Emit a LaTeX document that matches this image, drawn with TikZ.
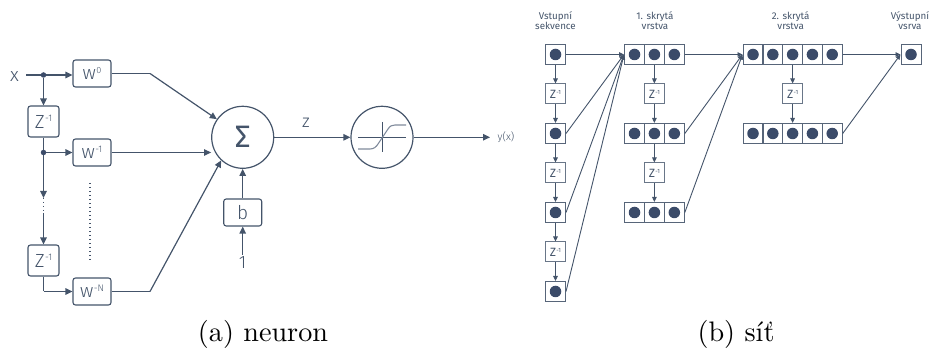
\documentclass[tikz,border=0pt]{standalone}
\usepackage{fontspec}
\setmainfont{Fira Sans}[UprightFont=* Light]
\newfontfamily\firareg{Fira Sans}
\newfontfamily\lmcap{lmroman10-regular.otf}
\usetikzlibrary{arrows.meta}
\definecolor{ink}{HTML}{44546A}
\definecolor{dotc}{HTML}{3B4B69}
\definecolor{sig}{HTML}{7F8A9B}
\newcommand{\fsz}[1]{\fontsize{#1}{#1}\selectfont}
% size of base, base letter, size of exponent, exponent text
\newcommand{\powr}[4]{{\fsz{#1}#2\raisebox{.34em}{\fsz{#3}\kern.05em #4}}}
\begin{document}
\begin{tikzpicture}[x=1pt,y=-1pt,
  line/.style={draw=ink,line width=1.2pt},
  arr/.style={line,-{Triangle[length=7pt,width=6.5pt]}},
  thin arr/.style={draw=ink,line width=.9pt,-{Triangle[length=5pt,width=4.5pt]}},
  rbox/.style={draw=ink,line width=1.1pt,rounded corners=2.5pt,inner sep=0pt,text=ink,align=center},
  wbox/.style={rbox,minimum width=38pt,minimum height=27pt},
  zbox/.style={rbox,minimum width=31pt,minimum height=31pt},
  ring/.style={circle,draw=ink,line width=1.2pt,minimum size=62pt,inner sep=0pt,text=ink},
  junction/.style={circle,fill=dotc,minimum size=5.5pt,inner sep=0pt},
  word/.style={text=ink,inner sep=0pt,align=center},
  head/.style={word,font=\firareg\fsz{9.8},align=center},
  cell/.style={draw=ink!90,line width=1pt,minimum size=20pt,inner sep=0pt},
  celldot/.style={circle,fill=dotc,minimum size=11.5pt,inner sep=0pt},
  zcell/.style={draw=ink!80,line width=1pt,minimum size=20pt,inner sep=0pt,text=ink,font=\firareg},
  caption/.style={inner sep=0pt,font=\lmcap\fsz{28.2},text=black}
]
\useasboundingbox (0,0) rectangle (930,352);

% ---------- (a) neuron ----------
\node[word,font=\fsz{19}] (x) at (14.5,76.5) {x};
\coordinate (xs) at (26,75);
\node[junction] (j0) at (43.5,75) {};
\node[wbox] (w0) at (92,73.5) {\powr{19}{w}{9}{0}};
\node[zbox] (z1) at (43.5,121.5) {\powr{19}{Z}{9.5}{-1}};
\node[junction] (j1) at (43.5,152.5) {};
\node[wbox] (w1) at (92,152.5) {\powr{19}{w}{9.5}{-1}};
\coordinate (dtop) at (43.5,198);
\coordinate (dbot) at (43.5,213);
\node[zbox] (z2) at (43.5,260.5) {\powr{19}{Z}{9.5}{-1}};
\node[wbox] (wn) at (92,291.5) {\powr{19}{w}{9.5}{-N}};
\coordinate (elbow) at (43.5,291.5);
\coordinate (k0) at (150,73.5);
\coordinate (kn) at (150,291.5);
\coordinate (vt) at (90,183);
\coordinate (vb) at (90,262);

\node[ring] (sum) at (242.7,137.3) {\firareg\fsz{31}Σ};
\node[ring] (act) at (382,137.3) {};
\node[wbox] (b) at (242.7,212.5) {\fsz{19}b};
\node[word,font=\fsz{18}] (one) at (242.7,263) {1};
\node[word,font=\fsz{18}] (zl) at (306,123) {z};
\node[word,font=\fsz{10.5}] (yx) at (506,137.5) {y(x)};
\coordinate (yend) at (490,137.3);

\draw[line] (xs) -- (j0);
\draw[arr] (j0) -- (w0.west |- j0);
\draw[arr] (j0) -- (z1);
\draw[line] (z1) -- (j1);
\draw[arr] (j1) -- (w1);
\draw[arr] (j1) -- (dtop);
\draw[draw=ink,line width=1pt,dash pattern=on 1pt off 3pt] (dtop) -- (dbot);
\draw[arr] (dbot) -- (z2);
\draw[line] (z2) -- (elbow);
\draw[arr] (elbow) -- (wn);
\draw[line] (w0.east) -- (k0);
\draw[arr] (k0) -- (sum.145);
\draw[arr] (w1) -- (sum.west |- w1);
\draw[line] (wn.east) -- (kn);
\draw[arr] (kn) -- (sum.-133);
\draw[arr] (b) -- (sum);
\draw[arr] (one.north) ++(0,-2) -- (b);
\draw[arr] (sum) -- (act);
\draw[arr] (act) -- (yend);
\draw[draw=ink,line width=1.1pt,dash pattern=on 1.2pt off 2.8pt] (vt) -- (vb);

% activation glyph
\coordinate (axl) at (358,137.3);
\coordinate (axr) at (406,137.3);
\coordinate (ayt) at (382,122);
\coordinate (ayb) at (382,152.5);
\coordinate (s1) at (358,149);
\coordinate (s2) at (406,125);
\draw[draw=ink,line width=.8pt] (axl) -- (axr);
\draw[draw=ink,line width=.8pt] (ayt) -- (ayb);
\draw[draw=sig,line width=1.1pt] (s1) -- (370,149) .. controls (374,149) and (376,147) .. (378,144) -- (388,129) .. controls (390,126) and (392,125) .. (395,125) -- (s2);

% ---------- (b) network ----------
\node[head] (h0) at (555.5,20.5) {Vstupní\\[.5pt]sekvence};
\node[head] (h1) at (655,20.5) {1. skrytá\\[.5pt]vrstva};
\node[head] (h2) at (790.7,20.5) {2. skrytá\\[.5pt]vrstva};
\node[head] (h3) at (910,20.5) {Výstupní\\[.5pt]vsrva};

\foreach \n/\x/\y in {
  i1/555.5/54.5, i2/555.5/133.5, i3/555.5/212.5, i4/555.5/291.5,
  aa/634.5/54.5, ab/654.4/54.5, ac/674.3/54.5,
  ba/634.5/133.5, bb/654.4/133.5, bc/674.3/133.5,
  ca/634.5/212.5, cb/654.4/212.5, cc/674.3/212.5,
  pa/753/54.5, pb/772.8/54.5, pc/792.6/54.5, pd/812.4/54.5, pe/832.2/54.5,
  qa/753/133.5, qb/772.8/133.5, qc/792.6/133.5, qd/812.4/133.5, qe/832.2/133.5,
  o1/911/54.5} {
  \node[cell] (\n) at (\x,\y) {};
  \node[celldot] (\n d) at (\n.center) {};
}
\foreach \n/\x/\y in {
  za/555.5/94, zb/555.5/173, zc/555.5/252,
  zd/654.4/94, ze/654.4/173,
  zf/792.6/94} {
  \node[zcell] (\n) at (\x,\y) {\powr{12}{Z}{6}{-1}};
}

\foreach \a/\b in {i1/za,za/i2,i2/zb,zb/i3,i3/zc,zc/i4,ab/zd,zd/bb,bb/ze,ze/cb,pc/zf,zf/qc}
  \draw[thin arr] (\a) -- (\b);
\foreach \a in {i1,i2,i3,i4}
  \draw[thin arr] (\a.east) -- (aa.west);
\foreach \a in {ac,bc,cc}
  \draw[thin arr] (\a.east) -- (pa.west);
\foreach \a in {pe,qe}
  \draw[thin arr] (\a.east) -- (o1.west);

% ---------- captions ----------
\node[caption,anchor=base] (ca1) at (263,342) {(a) neuron};
\node[caption,anchor=base] (ca2) at (736,342) {(b) síť};
\end{tikzpicture}
\end{document}
